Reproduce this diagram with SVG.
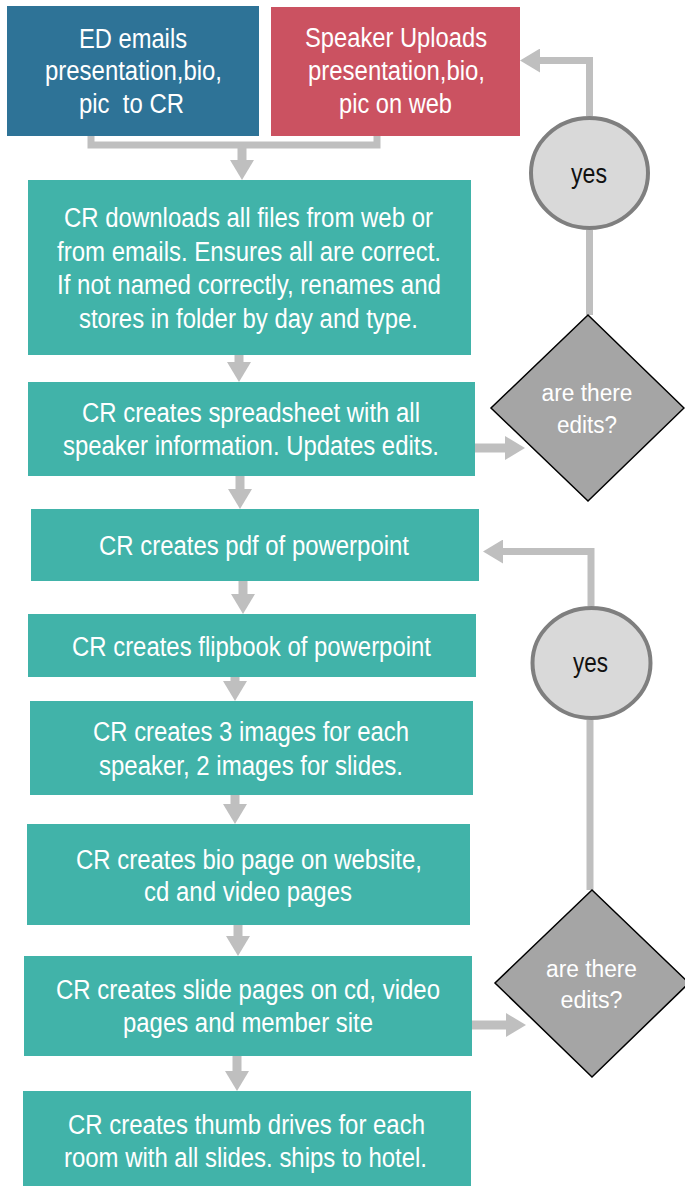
<svg xmlns="http://www.w3.org/2000/svg" width="685" height="1186" viewBox="0 0 685 1186">
<style>
.t{font-family:"Liberation Sans Narrow","Liberation Sans",Arial,sans-serif;font-size:27px;fill:#ffffff;text-anchor:middle}
.dt{font-family:"Liberation Sans Narrow","Liberation Sans",Arial,sans-serif;font-size:23px;fill:#ffffff;text-anchor:middle}
.yt{font-family:"Liberation Sans Narrow","Liberation Sans",Arial,sans-serif;font-size:27px;fill:#111111;text-anchor:middle}
.teal{fill:#41b3a9}
.dia{fill:#a5a5a5;stroke:#000000;stroke-width:1.5}
.yes{fill:#d9d9d9;stroke:#7f7f7f;stroke-width:4}
.c{fill:none;stroke:#bfbfbf;stroke-width:9}
.ca{fill:none;stroke:#bfbfbf;stroke-width:9;marker-end:url(#ah)}
</style>
<defs>
<marker id="ah" viewBox="0 0 20 24" refX="2" refY="12" markerWidth="20" markerHeight="24" orient="auto" markerUnits="userSpaceOnUse">
<path d="M0,0 L20,12 L0,24 Z" fill="#bfbfbf"/>
</marker>
</defs>
<rect width="685" height="1186" fill="#ffffff"/>
<g id="connectors">
<path class="c" style="stroke-width:7" d="M91,136 V145 H377 V136"/>
<path class="ca" d="M242,145 V162"/>
<path class="ca" d="M239,355 V364"/>
<path class="ca" d="M240,476 V491"/>
<path class="ca" d="M243,581 V596"/>
<path class="ca" d="M235,677 V683"/>
<path class="ca" d="M235,795 V806"/>
<path class="ca" d="M238,925 V938"/>
<path class="ca" d="M237,1056 V1073"/>
<path class="ca" d="M475,448 H507"/>
<path class="ca" d="M472,1025 H508"/>
<path class="c" style="stroke-width:7" d="M589.5,315 V230"/>
<path class="ca" style="stroke-width:7" d="M589.5,116 V60.5 H538"/>
<path class="c" style="stroke-width:7" d="M590,890 V720"/>
<path class="ca" style="stroke-width:7" d="M591,606 V551.5 H501"/>
</g>
<g id="ed-emails">
<rect x="7" y="6" width="252" height="130" fill="#2e7397"/>
<text class="t" x="133" y="48" textLength="108" lengthAdjust="spacingAndGlyphs">ED emails</text>
<text class="t" x="133.5" y="80" textLength="177" lengthAdjust="spacingAndGlyphs">presentation,bio,</text>
<text class="t" x="131.5" y="113" textLength="105" lengthAdjust="spacingAndGlyphs" xml:space="preserve">pic  to CR</text>
</g>
<g id="speaker-uploads">
<rect x="271" y="7" width="249" height="129" fill="#cb5261"/>
<text class="t" x="396" y="47" textLength="182" lengthAdjust="spacingAndGlyphs">Speaker Uploads</text>
<text class="t" x="396.5" y="80" textLength="177" lengthAdjust="spacingAndGlyphs">presentation,bio,</text>
<text class="t" x="395.5" y="113" textLength="113" lengthAdjust="spacingAndGlyphs">pic on web</text>
</g>
<g id="cr-downloads">
<rect class="teal" x="28" y="180" width="443" height="175"/>
<text class="t" x="248.5" y="227" textLength="369" lengthAdjust="spacingAndGlyphs">CR downloads all files from web or</text>
<text class="t" x="249" y="261" textLength="384" lengthAdjust="spacingAndGlyphs">from emails. Ensures all are correct.</text>
<text class="t" x="249" y="294" textLength="384" lengthAdjust="spacingAndGlyphs">If not named correctly, renames and</text>
<text class="t" x="248.5" y="328" textLength="339" lengthAdjust="spacingAndGlyphs">stores in folder by day and type.</text>
</g>
<g id="cr-spreadsheet">
<rect class="teal" x="28" y="382" width="447" height="94"/>
<text class="t" x="251" y="422" textLength="338" lengthAdjust="spacingAndGlyphs">CR creates spreadsheet with all</text>
<text class="t" x="251" y="455" textLength="376" lengthAdjust="spacingAndGlyphs">speaker information. Updates edits.</text>
</g>
<g id="cr-pdf">
<rect class="teal" x="31" y="509" width="448" height="72"/>
<text class="t" x="254" y="555" textLength="310" lengthAdjust="spacingAndGlyphs">CR creates pdf of powerpoint</text>
</g>
<g id="cr-flipbook">
<rect class="teal" x="28" y="614" width="448" height="63"/>
<text class="t" x="251.5" y="656" textLength="359" lengthAdjust="spacingAndGlyphs">CR creates flipbook of powerpoint</text>
</g>
<g id="cr-images">
<rect class="teal" x="30" y="701" width="443" height="94"/>
<text class="t" x="251" y="741" textLength="316" lengthAdjust="spacingAndGlyphs">CR creates 3 images for each</text>
<text class="t" x="251" y="775" textLength="304" lengthAdjust="spacingAndGlyphs">speaker, 2 images for slides.</text>
</g>
<g id="cr-bio">
<rect class="teal" x="27" y="824" width="443" height="101"/>
<text class="t" x="249" y="869" textLength="346" lengthAdjust="spacingAndGlyphs">CR creates bio page on website,</text>
<text class="t" x="248" y="901" textLength="208" lengthAdjust="spacingAndGlyphs">cd and video pages</text>
</g>
<g id="cr-slides">
<rect class="teal" x="24" y="956" width="448" height="100"/>
<text class="t" x="248" y="999" textLength="384" lengthAdjust="spacingAndGlyphs">CR creates slide pages on cd, video</text>
<text class="t" x="248" y="1032" textLength="250" lengthAdjust="spacingAndGlyphs">pages and member site</text>
</g>
<g id="cr-thumb">
<rect class="teal" x="23" y="1091" width="448" height="95"/>
<text class="t" x="246.5" y="1134" textLength="357" lengthAdjust="spacingAndGlyphs">CR creates thumb drives for each</text>
<text class="t" x="245.5" y="1167" textLength="363" lengthAdjust="spacingAndGlyphs">room with all slides. ships to hotel.</text>
</g>
<g id="edits-1">
<polygon class="dia" points="588,315 684,408 588,501 491,408"/>
<text class="dt" x="587" y="401" textLength="91" lengthAdjust="spacingAndGlyphs">are there</text>
<text class="dt" x="587" y="433" textLength="60" lengthAdjust="spacingAndGlyphs">edits?</text>
</g>
<g id="yes-1">
<ellipse class="yes" cx="589.5" cy="173" rx="58.5" ry="55"/>
<text class="yt" x="589" y="183" textLength="36" lengthAdjust="spacingAndGlyphs">yes</text>
</g>
<g id="edits-2">
<polygon class="dia" points="592,890 689,983 592,1077 495,983"/>
<text class="dt" x="591.5" y="977" textLength="91" lengthAdjust="spacingAndGlyphs">are there</text>
<text class="dt" x="591.5" y="1008" textLength="62" lengthAdjust="spacingAndGlyphs">edits?</text>
</g>
<g id="yes-2">
<ellipse class="yes" cx="591.5" cy="663" rx="59" ry="55"/>
<text class="yt" x="590.5" y="672" textLength="35" lengthAdjust="spacingAndGlyphs">yes</text>
</g>
</svg>
